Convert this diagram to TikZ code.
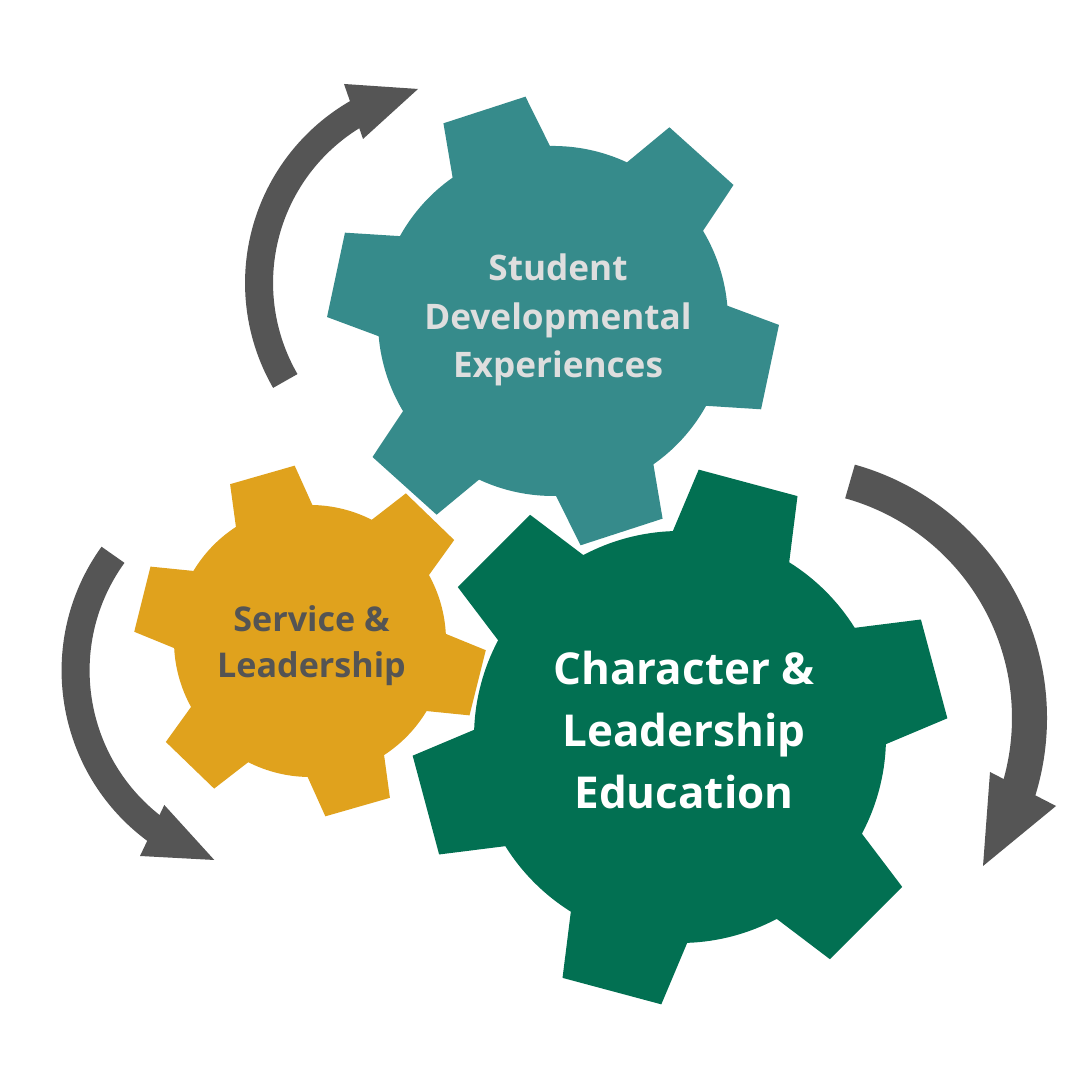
\documentclass[tikz,border=0pt]{standalone}
\usepackage{fontspec}
\newfontfamily\gearfont{Open Sans}
\definecolor{gteal}{HTML}{368B8B}
\definecolor{gyellow}{HTML}{E0A21D}
\definecolor{ggreen}{HTML}{027052}
\definecolor{agray}{HTML}{555555}
\definecolor{tealtext}{HTML}{DEDEDE}
\definecolor{yeltext}{HTML}{545454}
\newcommand\drawgear[6]{%
  \begin{scope}[shift={(#2,#3)}]
    \fill[#1] ({#6-17}:#4)
      \foreach \k in {0,...,5}{
        -- ({#6+60*\k-11}:#5) -- ({#6+60*\k+11}:#5) -- ({#6+60*\k+17}:#4)
        arc[start angle={#6+60*\k+17}, end angle={#6+60*\k+43}, radius=#4]
      } -- cycle;
  \end{scope}}
\tikzset{
  shaft/.style={draw=agray, line cap=butt},
  headfill/.style={fill=agray},
  geartext/.style={align=center, inner sep=0pt}
}
\begin{document}
\begin{tikzpicture}[x=0.01cm, y=0.01cm]
\fill[white] (0,0) rectangle (1080,1080);
\useasboundingbox (0,0) rectangle (1080,1080);

% gears
\drawgear{gteal}{553}{759}{175}{226}{48}
\drawgear{gyellow}{310}{439}{136}{176}{46}
\drawgear{ggreen}{680}{343}{206}{268}{15}

% texts
\node[geartext, text=tealtext, font=\gearfont\bfseries\fontsize{10.0}{13.7}\selectfont] (t1) at (558,760) {Student\\Developmental\\Experiences};
\node[geartext, text=yeltext, font=\gearfont\bfseries\fontsize{9.7}{13.1}\selectfont] (t2) at (311.5,434) {Service \&\\Leadership};
\node[geartext, text=white, font=\gearfont\bfseries\fontsize{12.5}{17.6}\selectfont] (t3) at (684,350) {Character \&\\Leadership\\Education};

% arrow 1 (top left)
\coordinate (a1s) at (285.3,699);
\coordinate (a1tip) at (418,991);
\draw[shaft, line width=0.28cm] (a1s) arc[start angle=210, end angle=118, radius=196];
\fill[headfill] (344,996) -- (a1tip) -- (363,941) -- cycle;

% arrow 2 (right)
\coordinate (a2s) at (850,598.5);
\coordinate (a2tip) at (983,214);
\draw[shaft, line width=0.35cm] (a2s) arc[start angle=74.4, end angle=-18, radius=245.5];
\fill[headfill] (990,308) -- (1056,274) -- (a2tip) -- cycle;

% arrow 3 (bottom left)
\coordinate (a3s) at (113,525.2);
\coordinate (a3tip) at (214.3,220);
\draw[shaft, line width=0.28cm] (a3s) arc[start angle=144.2, end angle=234, radius=198];
\fill[headfill] (164.3,275) -- (a3tip) -- (140,224) -- cycle;
\end{tikzpicture}
\end{document}
